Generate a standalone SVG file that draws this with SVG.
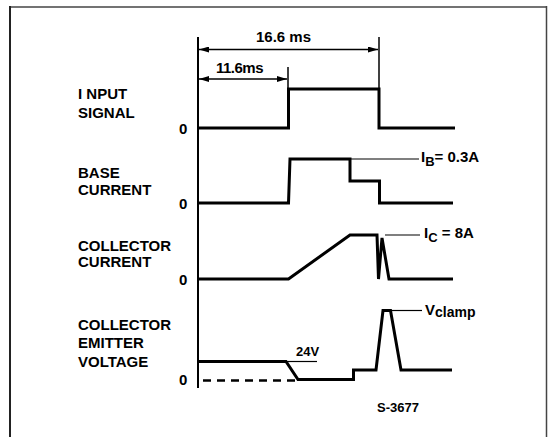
<svg xmlns="http://www.w3.org/2000/svg" width="557" height="437" viewBox="0 0 557 437">
<style>
.lbl{font-family:"Liberation Sans",Arial,sans-serif;font-weight:bold;font-size:15px;fill:#000}
.sm{font-family:"Liberation Sans",Arial,sans-serif;font-weight:bold;font-size:13px;fill:#000}
.wave{fill:none;stroke:#000;stroke-width:3;stroke-linejoin:miter}
.thin{fill:none;stroke:#000;stroke-width:1.2}
.dim{fill:none;stroke:#000;stroke-width:1.5}
</style>
<defs>
<marker id="arr" viewBox="0 0 10 6" refX="10" refY="3" markerWidth="10" markerHeight="6" markerUnits="userSpaceOnUse" orient="auto-start-reverse">
<path d="M0,0 L10,3 L0,6 Z" fill="#000"/>
</marker>
</defs>
<rect x="0" y="0" width="557" height="437" fill="#fff"/>
<g id="frame">
<line x1="10" y1="7" x2="547" y2="7" stroke="#444" stroke-width="1.5"/>
<line x1="10" y1="6" x2="10" y2="437" stroke="#222" stroke-width="2"/>
<line x1="546.5" y1="6" x2="546.5" y2="437" stroke="#444" stroke-width="1.5"/>
</g>
<g id="axis">
<line x1="198" y1="37" x2="198" y2="388" stroke="#000" stroke-width="2"/>
</g>
<g id="labels">
<text class="lbl" x="78" y="99">I NPUT</text>
<text class="lbl" x="78" y="118">SIGNAL</text>
<text class="lbl" x="179" y="134">0</text>
<text class="lbl" x="78" y="178">BASE</text>
<text class="lbl" x="78" y="195">CURRENT</text>
<text class="lbl" x="179" y="209">0</text>
<text class="lbl" x="78" y="251">COLLECTOR</text>
<text class="lbl" x="78" y="267">CURRENT</text>
<text class="lbl" x="179" y="285">0</text>
<text class="lbl" x="78" y="330">COLLECTOR</text>
<text class="lbl" x="78" y="348">EMITTER</text>
<text class="lbl" x="78" y="367">VOLTAGE</text>
<text class="lbl" x="179" y="385">0</text>
</g>
<g id="dimensions">
<line class="dim" x1="379" y1="37" x2="379" y2="89"/>
<line class="dim" x1="288" y1="67" x2="288" y2="89"/>
<line class="dim" x1="199" y1="49.5" x2="378" y2="49.5" marker-start="url(#arr)" marker-end="url(#arr)"/>
<line class="dim" x1="199" y1="79" x2="287" y2="79" marker-start="url(#arr)" marker-end="url(#arr)"/>
<text class="lbl" x="256" y="42">16.6 ms</text>
<text class="lbl" x="216" y="72.5" letter-spacing="-0.5">11.6ms</text>
</g>
<g id="input-signal">
<polyline class="wave" points="198,128 288.5,128 288.5,89 379,89 379,128 455,128"/>
</g>
<g id="base-current">
<polyline class="wave" points="198,203 288.5,203 290,159 350,159 350,181 379.5,181 379.5,203 453,203"/>
<line class="thin" x1="351" y1="159" x2="419" y2="159"/>
<text class="lbl" x="421" y="162" font-size="16">I<tspan font-size="13" dy="4">B</tspan><tspan dy="-4">= 0.3A</tspan></text>
</g>
<g id="collector-current">
<polyline class="wave" points="198,279 288.5,279 350,235 377,235 378.5,279 382,238 389,279 453,279"/>
<line class="thin" x1="385" y1="235" x2="420" y2="235"/>
<text class="lbl" x="424" y="238" font-size="16">I<tspan font-size="13" dy="4">C</tspan><tspan dy="-4"> = 8A</tspan></text>
</g>
<g id="collector-emitter-voltage">
<polyline class="wave" points="198,361.5 286,361.5 298,379.5 353.5,379.5 353.5,370 376,370 383,310.5 390.5,310.5 401,370 452,370"/>
<line fill="none" stroke="#000" stroke-width="2.5" stroke-dasharray="8,6" x1="203" y1="380.5" x2="297" y2="380.5"/>
<line class="thin" x1="287" y1="361.5" x2="317" y2="361.5"/>
<line class="thin" x1="391" y1="310.5" x2="422" y2="310.5"/>
<text class="sm" x="296" y="355.5">24V</text>
<text class="lbl" x="425" y="315" font-size="15">V<tspan font-size="14" dy="1.5">clamp</tspan></text>
<text class="sm" x="377" y="412" font-size="12">S-3677</text>
</g>
</svg>
